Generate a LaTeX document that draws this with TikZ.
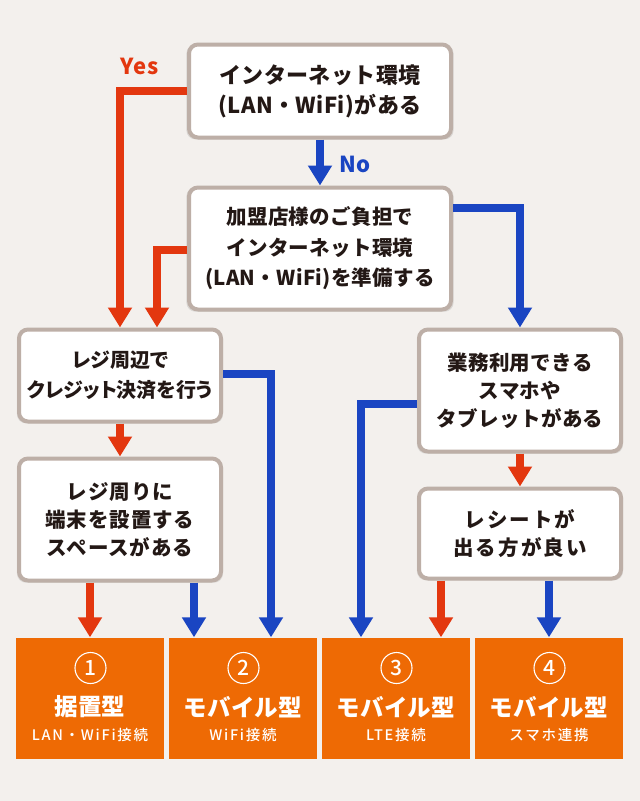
\documentclass[tikz,border=0pt]{standalone}
\usepackage{fontspec}
\setmainfont{Noto Sans CJK JP}
\newfontfamily\jpmed{Noto Sans CJK JP Medium}
\usetikzlibrary{arrows.meta,shadows}
\definecolor{bg}{HTML}{F3F0ED}
\definecolor{boxline}{HTML}{BDAFA7}
\definecolor{ink}{HTML}{231815}
\definecolor{redc}{HTML}{E3370F}
\definecolor{bluec}{HTML}{1A45C2}
\definecolor{orangec}{HTML}{EE6A04}
\newcommand{\qfont}[3]{\bfseries\fontsize{#1}{#2}\selectfont\addfontfeatures{LetterSpace=#3}}
\tikzset{
  qbox/.style={draw=boxline, line width=4pt, fill=white, rounded corners=9pt,
    align=center, text=ink, inner sep=0pt,
    drop shadow={shadow xshift=0pt, shadow yshift=-1pt, opacity=0.10, fill=black, shadow scale=1.02}},
  resbox/.style={fill=orangec, minimum width=148pt, minimum height=121pt, inner sep=0pt},
  numc/.style={circle, draw=white, line width=1.1pt, minimum size=31pt, inner sep=0pt,
    text=white, font=\jpmed\fontsize{21}{21}\selectfont},
  rtitle/.style={text=white, font=\bfseries\fontsize{23.5}{23.5}\selectfont\addfontfeatures{LetterSpace=1}, inner sep=0pt},
  rsub/.style={text=white, font=\jpmed\fontsize{14.5}{14.5}\selectfont\addfontfeatures{LetterSpace=12}, inner sep=0pt},
  redar/.style={draw=redc, line width=8pt, -{Triangle[width=23pt,length=20pt]}},
  bluear/.style={draw=bluec, line width=8pt, -{Triangle[width=23pt,length=20pt]}},
  lbl/.style={font=\bfseries\fontsize{22}{22}\selectfont\addfontfeatures{LetterSpace=4}, inner sep=0pt}
}
\begin{document}
\begin{tikzpicture}[x=1pt,y=-1pt]
\fill[bg] (0,0) rectangle (640,801);
\useasboundingbox (0,0) rectangle (640,801);

% question boxes
\node[qbox, minimum width=262pt, minimum height=93pt, font=\qfont{22}{30}{2}] (top) at (320,91)
  {インターネット環境\\(LAN・WiFi)がある};
\node[qbox, minimum width=262pt, minimum height=122pt, font=\qfont{20.5}{30.5}{1.5}] (mid) at (320,248.5)
  {加盟店様のご負担で\\インターネット環境\\(LAN・WiFi)を準備する};
\node[qbox, minimum width=202pt, minimum height=92pt, font=\bfseries\fontsize{20}{30}\selectfont\addfontfeatures{RawFeature=+palt}] (l1) at (120,375.5)
  {レジ周辺で\\クレジット決済を行う};
\node[qbox, minimum width=202pt, minimum height=122pt, font=\qfont{20.5}{28}{4.4}] (l2) at (120,519.5)
  {レジ周りに\\端末を設置する\\スペースがある};
\node[qbox, minimum width=202pt, minimum height=122pt, font=\qfont{20.5}{28}{2}] (r1) at (520,390.5)
  {業務利用できる\\スマホや\\タブレットがある};
\node[qbox, minimum width=202pt, minimum height=90pt, font=\qfont{20.5}{28}{10}] (r2) at (520,533.5)
  {レシートが\\出る方が良い};

% result boxes
\node[resbox] (b1) at (90,698) {};
\node[resbox] (b2) at (243,698) {};
\node[resbox] (b3) at (396,698) {};
\node[resbox] (b4) at (549,698) {};

\node[numc] (n1) at (90.5,668) {1};
\node[numc] (n2) at (243.5,668) {2};
\node[numc] (n3) at (396.5,668) {3};
\node[numc] (n4) at (549.5,668) {4};

\node[rtitle] (t1) at (90,707) {据置型};
\node[rtitle] (t2) at (243,707) {モバイル型};
\node[rtitle] (t3) at (396,707) {モバイル型};
\node[rtitle] (t4) at (549,707) {モバイル型};

\node[rsub] (s1) at (90,735) {LAN・WiFi接続};
\node[rsub] (s2) at (243,735) {WiFi接続};
\node[rsub] (s3) at (396,735) {LTE接続};
\node[rsub] (s4) at (549,735) {スマホ連携};

% entry points
\coordinate (l1b) at ([xshift=37pt]l1.north);
\coordinate (b2a) at ([xshift=-49pt]b2.north);
\coordinate (b2b) at ([xshift=28pt]b2.north);
\coordinate (b3a) at ([xshift=-35pt]b3.north);
\coordinate (b3b) at ([xshift=45pt]b3.north);

% connectors
\draw[redar] (top.west) -| (l1.north);
\node[lbl, text=redc] (yes) at (140,66) {Yes};
\draw[bluear] (top.south) -- (mid.north);
\node[lbl, text=bluec] (no) at (355,164) {No};
\draw[redar] ([yshift=-1.5pt]mid.west) -| (l1b);
\draw[bluear] ([yshift=41pt]mid.east) -| (r1.north);
\draw[redar] (l1.south) -- (l2.north);
\draw[bluear] ([yshift=1.5pt]l1.east) -| (b2b);
\draw[redar] (l2.south -| b1.north) -- (b1.north);
\draw[bluear] (l2.south -| b2a) -- (b2a);
\draw[bluear] ([yshift=-13.5pt]r1.west) -| (b3a);
\draw[redar] (r1.south) -- (r2.north);
\draw[redar] (r2.south -| b3b) -- (b3b);
\draw[bluear] (r2.south -| b4.north) -- (b4.north);
\end{tikzpicture}
\end{document}
